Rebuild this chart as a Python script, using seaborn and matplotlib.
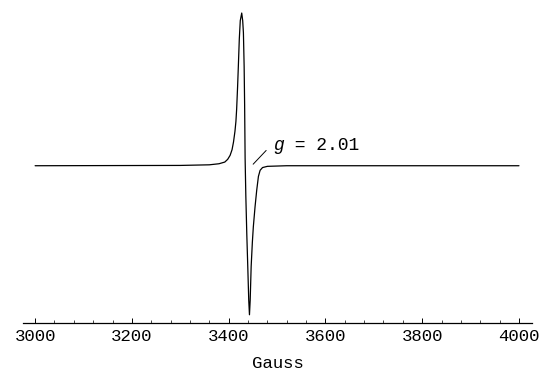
import pandas as pd
import matplotlib
matplotlib.use("Agg")
import matplotlib.pyplot as plt
from matplotlib.ticker import MultipleLocator
import seaborn as sns

# EPR first-derivative signal
field = [3000, 3300, 3360, 3380, 3392, 3398, 3403, 3407, 3410, 3413,
         3415, 3416.5, 3418.5, 3420, 3422, 3424, 3427, 3429, 3430.5, 3432, 3433,
         3434, 3435.5, 3437.5, 3439.5, 3441.5, 3443, 3444.5, 3446.5, 3449, 3451,
         3454.5, 3458, 3461.5, 3465, 3470, 3480, 3520, 4000]
signal = [0.0, 0.002, 0.006, 0.013, 0.024, 0.042, 0.068, 0.105, 0.155, 0.225,
          0.29, 0.37, 0.52, 0.65, 0.83, 0.95, 1.0, 0.95, 0.87, 0.65, 0.40,
          0.05, -0.20, -0.45, -0.66, -0.88, -0.976, -0.88, -0.66, -0.50, -0.40,
          -0.27, -0.16, -0.07, -0.03, -0.012, -0.004, 0.0, 0.0]
x_ticks = [3000, 3200, 3400, 3600, 3800, 4000]
g_label = "g"
g_value = " = 2.01"

df = pd.DataFrame({"Gauss": field, "signal": signal})

sns.set_theme(style="white")
plt.rcParams["font.family"] = ["Liberation Mono", "DejaVu Sans"]

fig = plt.figure(figsize=(5.43, 3.72), dpi=100)
ax = fig.add_axes([0.0424, 0.1317, 0.9374, 0.8548])

sns.lineplot(data=df, x="Gauss", y="signal", estimator=None, sort=False,
             color="black", linewidth=0.9, ax=ax)

ax.set_xlim(2975, 4027)
ax.set_ylim(-1.03, 1.0525)
ax.set_xticks(x_ticks)
ax.set_xticklabels([str(t) for t in x_ticks], fontsize=12.5)
ax.xaxis.set_minor_locator(MultipleLocator(40))
ax.tick_params(axis="x", which="major", direction="in", length=3.5, width=0.7,
               pad=4, colors="black", bottom=True)
ax.tick_params(axis="x", which="minor", direction="in", length=2, width=0.6,
               bottom=True)
ax.set_yticks([])
ax.set_ylabel("")
ax.set_xlabel("Gauss", fontsize=12.5, labelpad=9, color="black")

for side in ["left", "top", "right"]:
    ax.spines[side].set_visible(False)
ax.spines["bottom"].set_color("black")
ax.spines["bottom"].set_linewidth(0.9)

# g-value annotation
ax.plot([3450.6, 3477.5], [0.01, 0.10], color="black", linewidth=0.7)
t = ax.text(3491.7, 0.103, g_label, fontsize=13, style="italic",
            ha="left", va="baseline", color="black")
ax.annotate(g_value, xy=(1, 0), xycoords=t, fontsize=13,
            ha="left", va="bottom", color="black")

fig.savefig("out.png", dpi=100)
